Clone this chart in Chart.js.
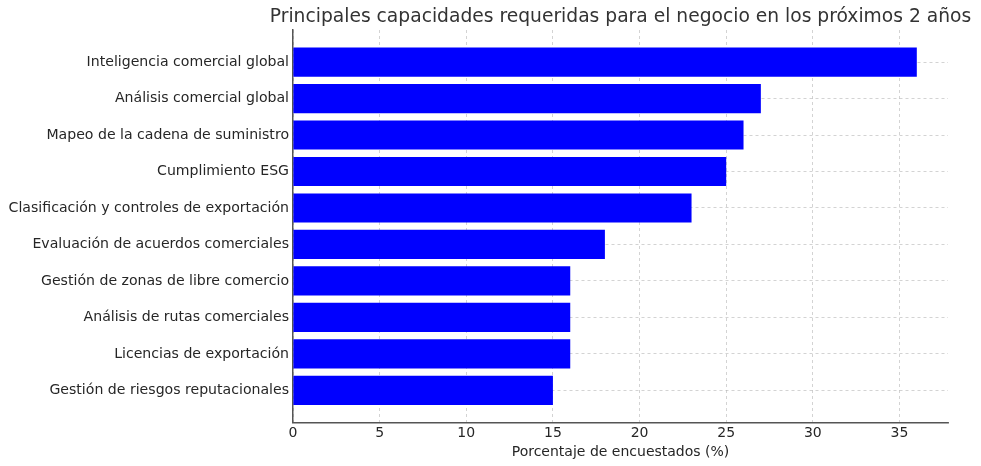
<!DOCTYPE html>
<html>
<head>
<meta charset="utf-8">
<script src="https://cdn.jsdelivr.net/npm/chart.js@4/dist/chart.umd.min.js"></script>
<style>
  html, body { margin: 0; padding: 0; background: #fff; }
  #wrap { width: 981px; height: 466px; }
</style>
</head>
<body>
<div id="wrap"><canvas id="capChart"></canvas></div>
<script>
const titleText = "Principales capacidades requeridas para el negocio en los próximos 2 años";
const xTitle = "Porcentaje de encuestados (%)";

const capacidades = [
    "Inteligencia comercial global",
    "Análisis comercial global",
    "Mapeo de la cadena de suministro",
    "Cumplimiento ESG",
    "Clasificación y controles de exportación",
    "Evaluación de acuerdos comerciales",
    "Gestión de zonas de libre comercio",
    "Análisis de rutas comerciales",
    "Licencias de exportación",
    "Gestión de riesgos reputacionales"
];

const porcentajes = [36, 27, 26, 25, 23, 18, 16, 16, 16, 15];

const xTicks = [0, 5, 10, 15, 20, 25, 30, 35];

const font = "'DejaVu Sans', sans-serif";
const gridColor = "rgba(176,176,176,0.7)";
const axisColor = "#555555";

// title drawn over the plot area centre, like the original
const plotTitle = {
    id: "plotTitle",
    afterDraw(chart) {
        const { ctx, chartArea } = chart;
        ctx.save();
        ctx.font = "18.7px " + font;
        ctx.fillStyle = "#333333";
        ctx.textAlign = "center";
        ctx.textBaseline = "middle";
        ctx.fillText(titleText, (chartArea.left + chartArea.right) / 2, 17);
        ctx.restore();
    }
};

const ctx = document.getElementById("capChart").getContext("2d");

new Chart(ctx, {
    type: "bar",
    data: {
        datasets: [
            {
                label: "Porcentaje",
                data: porcentajes.map((v, i) => ({ x: v, y: i })),
                backgroundColor: "#0000ff",
                borderWidth: 0,
                barPercentage: 0.8,
                categoryPercentage: 1.0
            }
        ]
    },
    options: {
        indexAxis: "y",
        responsive: true,
        maintainAspectRatio: false,
        animation: false,
        layout: {
            padding: { top: 30, right: 33, left: 4, bottom: 5 }
        },
        plugins: {
            legend: { display: false },
            tooltip: { enabled: false }
        },
        scales: {
            x: {
                type: "linear",
                min: 0,
                max: 37.8,
                z: 1,
                afterBuildTicks: axis => {
                    axis.ticks = xTicks.map(v => ({ value: v }));
                },
                ticks: {
                    color: "#262626",
                    font: { family: font, size: 14 },
                    padding: -1
                },
                grid: {
                    color: gridColor,
                    tickColor: "rgba(0,0,0,0)",
                    tickLength: 4,
                    tickBorderDash: [],
                    lineWidth: 0.8
                },
                border: {
                    color: axisColor,
                    width: 1.5,
                    dash: [3, 3]
                },
                title: {
                    display: true,
                    text: xTitle,
                    color: "#262626",
                    font: { family: font, size: 14 },
                    padding: { top: 3, bottom: 0 }
                }
            },
            y: {
                type: "linear",
                reverse: true,
                offset: false,
                min: -0.88,
                max: 9.88,
                z: 1,
                afterBuildTicks: axis => {
                    axis.ticks = capacidades.map((c, i) => ({ value: i }));
                },
                afterFit: axis => {
                    axis.width = 289;
                },
                ticks: {
                    color: "#262626",
                    font: { family: font, size: 14.1 },
                    padding: 1,
                    callback: value => capacidades[value]
                },
                grid: {
                    offset: false,
                    color: gridColor,
                    tickColor: "rgba(0,0,0,0)",
                    tickLength: 3,
                    tickBorderDash: [],
                    lineWidth: 0.8
                },
                border: {
                    color: axisColor,
                    width: 1.5,
                    dash: [3, 3]
                }
            }
        }
    },
    plugins: [plotTitle]
});
</script>
</body>
</html>
